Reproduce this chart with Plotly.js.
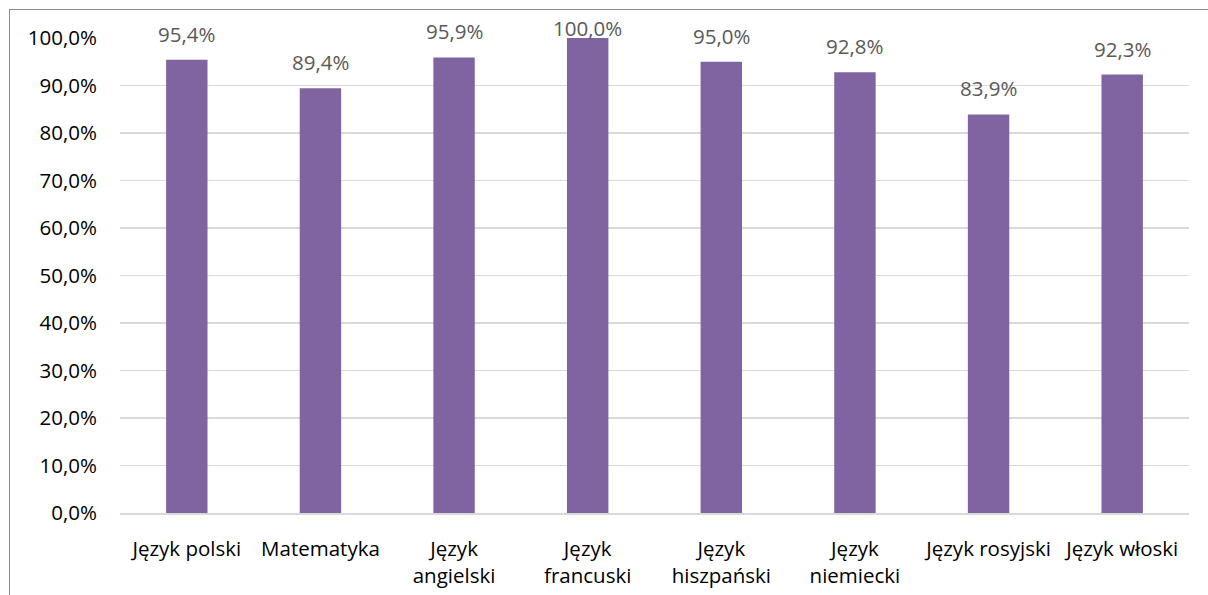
<!DOCTYPE html>
<html>
<head>
<meta charset="utf-8">
<script src="https://cdn.plot.ly/plotly-3.0.1.min.js"></script>
<style>
html,body{margin:0;padding:0;background:#fff;overflow:hidden;}
#chart{width:1208px;height:595px;}
#frame{position:absolute;left:9px;top:9px;width:1300px;height:700px;border-left:1.5px solid #8c8c8c;border-top:1.5px solid #8c8c8c;pointer-events:none;}
</style>
</head>
<body>
<div id="chart"></div>
<div id="frame"></div>
<script>
const categories = ["Język polski", "Matematyka", "Język<br>angielski", "Język<br>francuski", "Język<br>hiszpański", "Język<br>niemiecki", "Język rosyjski", "Język włoski"];
const values = [95.4, 89.4, 95.9, 100.0, 95.0, 92.8, 83.9, 92.3];
const tickValues = [0, 10, 20, 30, 40, 50, 60, 70, 80, 90, 100];
const tickLabels = ["0,0%", "10,0%", "20,0%", "30,0%", "40,0%", "50,0%", "60,0%", "70,0%", "80,0%", "90,0%", "100,0%"];
const valueLabels = ["95,4%", "89,4%", "95,9%", "100,0%", "95,0%", "92,8%", "83,9%", "92,3%"];

const FONT = "'Open Sans', sans-serif";
const FS = 20.5;
const PLOT_H = 595 - 38 - 82;

const trace = {
  type: "bar",
  x: categories,
  y: values,
  marker: {color: "#8064A2"},
  width: 0.31,
  hoverinfo: "none"
};

// labels sit above the bar, but are kept inside the chart area near the top
const annotations = categories.map((c, i) => ({
  x: c,
  y: values[i],
  xref: "x",
  yref: "y",
  text: valueLabels[i],
  showarrow: false,
  yanchor: "middle",
  yshift: Math.min(26, 10 + (100 - values[i]) / 100 * PLOT_H),
  font: {family: FONT, size: FS, color: "#595959"}
}));

const layout = {
  width: 1208,
  height: 595,
  margin: {l: 120, r: 19, t: 38, b: 82},
  paper_bgcolor: "#ffffff",
  plot_bgcolor: "#ffffff",
  showlegend: false,
  font: {family: FONT, size: FS, color: "#000000"},
  annotations: annotations,
  xaxis: {
    type: "category",
    showgrid: false,
    showline: true,
    linecolor: "#d9d9d9",
    linewidth: 1.5,
    ticks: "",
    ticklabelstandoff: 17,
    tickfont: {family: FONT, size: FS, color: "#000000"},
    fixedrange: true
  },
  yaxis: {
    range: [0, 100],
    tickvals: tickValues,
    ticktext: tickLabels,
    showgrid: true,
    gridcolor: "#d9d9d9",
    gridwidth: 1.5,
    zeroline: false,
    showline: false,
    ticks: "",
    ticklabelstandoff: 22,
    tickfont: {family: FONT, size: FS, color: "#000000"},
    fixedrange: true
  }
};

Plotly.newPlot("chart", [trace], layout, {displayModeBar: false, staticPlot: true});
</script>
</body>
</html>
